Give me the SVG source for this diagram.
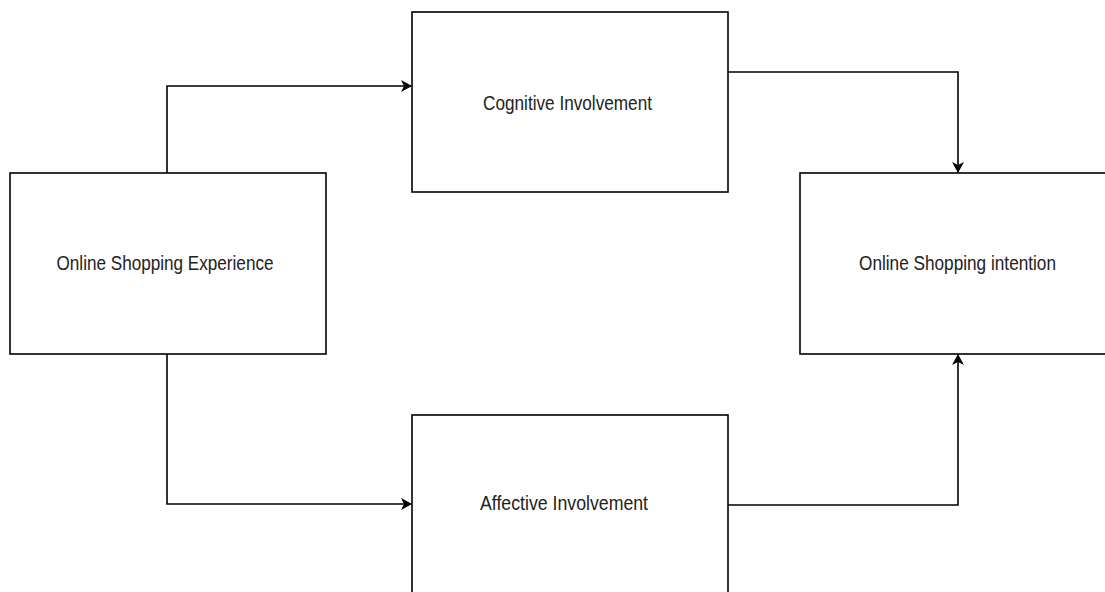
<svg xmlns="http://www.w3.org/2000/svg" width="1105" height="592" viewBox="0 0 1105 592">
<style>
.box{fill:#fff;stroke:#000;stroke-width:1.6}
.lbl{font-family:"Liberation Sans",Arial,sans-serif;font-size:21px;fill:#222;text-anchor:middle}
.con{fill:none;stroke:#000;stroke-width:1.6}
</style>
<defs>
<marker id="arr" markerWidth="11" markerHeight="12" refX="10" refY="6" orient="auto" markerUnits="userSpaceOnUse">
<path d="M0,0 L11,6 L0,12 L3,6 Z" fill="#000"/>
</marker>
</defs>
<rect width="1105" height="592" fill="#fff"/>
<g id="connectors">
<path class="con" d="M167,173 V86 H411" marker-end="url(#arr)"/>
<path class="con" d="M728,72 H958 V172" marker-end="url(#arr)"/>
<path class="con" d="M167,354 V504 H411" marker-end="url(#arr)"/>
<path class="con" d="M728,505 H958 V355" marker-end="url(#arr)"/>
</g>
<g id="node-experience">
<rect class="box" x="10" y="173" width="316" height="181"/>
<text class="lbl" x="165" y="270" textLength="217" lengthAdjust="spacingAndGlyphs">Online Shopping Experience</text>
</g>
<g id="node-cognitive">
<rect class="box" x="412" y="12" width="316" height="180"/>
<text class="lbl" x="567.5" y="109.5" textLength="169" lengthAdjust="spacingAndGlyphs">Cognitive Involvement</text>
</g>
<g id="node-intention">
<rect class="box" x="800" y="173" width="316" height="181"/>
<text class="lbl" x="957.5" y="270" textLength="197" lengthAdjust="spacingAndGlyphs">Online Shopping intention</text>
</g>
<g id="node-affective">
<rect class="box" x="412" y="415" width="316" height="180"/>
<text class="lbl" x="564" y="510" textLength="168" lengthAdjust="spacingAndGlyphs">Affective Involvement</text>
</g>
</svg>
